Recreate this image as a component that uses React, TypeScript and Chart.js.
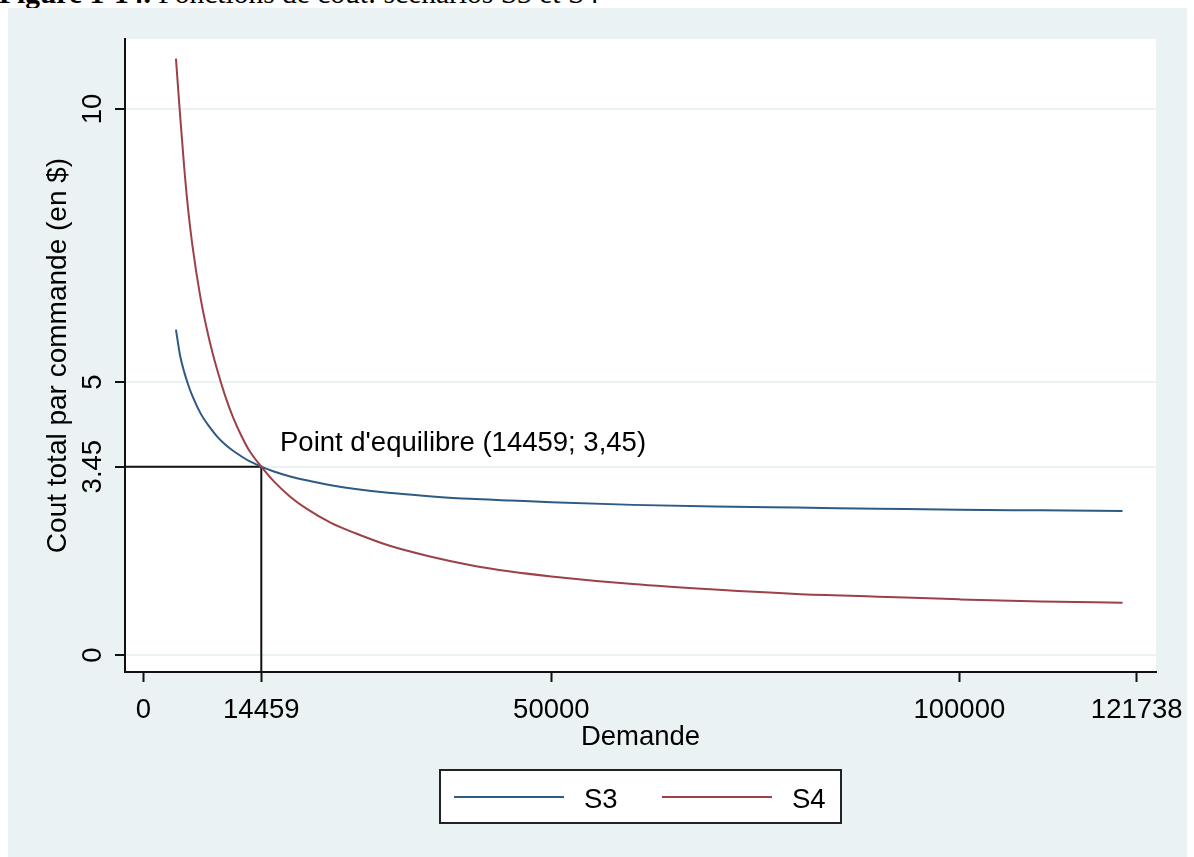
import React, { useEffect, useRef } from 'react';
import { Chart, registerables } from 'chart.js';

Chart.register(...registerables);

// ---------- data ----------
const demand = [
  4000, 4500, 5000, 5500, 6000, 7000, 8000, 9000, 10000, 11000, 12000, 13000, 14459,
  16000, 18000, 20000, 23000, 26000, 30000, 35000, 40000, 45000, 50000, 60000, 70000,
  80000, 90000, 100000, 110000, 120000,
];
const s3Cost = [
  5.96, 5.49, 5.19, 4.95, 4.75, 4.43, 4.2, 4.01, 3.86, 3.74, 3.64, 3.55, 3.45,
  3.36, 3.27, 3.2, 3.11, 3.04, 2.97, 2.91, 2.86, 2.83, 2.8, 2.75, 2.72,
  2.7, 2.68, 2.66, 2.65, 2.64,
];
const s4Cost = [
  10.92, 9.9, 8.95, 8.15, 7.52, 6.55, 5.83, 5.25, 4.76, 4.35, 4.02, 3.74, 3.45,
  3.18, 2.9, 2.68, 2.42, 2.23, 2.01, 1.81, 1.65, 1.53, 1.44, 1.3, 1.2,
  1.12, 1.07, 1.02, 0.98, 0.96,
];
const seriesNames = ['S3', 'S4'];
const xTickValues = [0, 14459, 50000, 100000, 121738];
const xTickLabels = ['0', '14459', '50000', '100000', '121738'];
const yTickValues = [0, 3.45, 5, 10];
const yTickLabels = ['0', '3.45', '5', '10'];
const equilibriumX = 14459;
const equilibriumY = 3.45;
const equilibriumText = "Point d'equilibre (14459; 3,45)";
const labelAnchorX = 16750;
const labelAnchorY = 3.74;
const xRange = [-2243, 124100];
const yRange = [-0.31, 11.28];
const xTitle = 'Demande';
const yTitle = 'Cout total par commande (en $)';
const captionBold = 'Figure 1-14.';
const captionRest = ' Fonctions de coût: scénarios S3 et S4';

// ---------- styles ----------
const FONT = '"Liberation Sans", Arial, Helvetica, sans-serif';
const BG = '#EAF2F3';
const S3_COLOR = '#2e5a86';
const S4_COLOR = '#9c4148';
const CANVAS_W = 1179;
const CANVAS_H = 849;

const decorPlugin = {
  id: 'decor',
  beforeDraw(chart: any) {
    const { ctx, chartArea: ca, width, height } = chart;
    ctx.save();
    ctx.fillStyle = BG;
    ctx.fillRect(0, 0, width, height);
    ctx.fillStyle = '#ffffff';
    ctx.fillRect(ca.left, ca.top, ca.right - ca.left, ca.bottom - ca.top);
    ctx.restore();
  },
  afterDraw(chart: any) {
    const { ctx, chartArea: ca, scales } = chart;
    const xs = scales.x;
    const ys = scales.y;
    ctx.save();
    ctx.fillStyle = '#000';
    ctx.textBaseline = 'alphabetic';

    // x tick labels
    ctx.font = `27.5px ${FONT}`;
    ctx.textAlign = 'center';
    xTickValues.forEach((v, i) => {
      ctx.fillText(xTickLabels[i], xs.getPixelForValue(v), ca.bottom + 46);
    });
    // x title
    ctx.fillText(xTitle, (ca.left + ca.right) / 2, ca.bottom + 73);

    // y tick labels (rotated)
    yTickValues.forEach((v, i) => {
      ctx.save();
      ctx.translate(ca.left - 24, ys.getPixelForValue(v));
      ctx.rotate(-Math.PI / 2);
      ctx.textAlign = 'center';
      ctx.fillText(yTickLabels[i], 0, 0);
      ctx.restore();
    });
    // y title
    ctx.save();
    ctx.font = `28px ${FONT}`;
    ctx.translate(ca.left - 59.5, (ca.top + ca.bottom) / 2);
    ctx.rotate(-Math.PI / 2);
    ctx.textAlign = 'center';
    ctx.fillText(yTitle, 0, 0);
    ctx.restore();

    // annotation
    ctx.font = `27.5px ${FONT}`;
    ctx.textAlign = 'left';
    ctx.fillText(equilibriumText, xs.getPixelForValue(labelAnchorX), ys.getPixelForValue(labelAnchorY));

    // legend
    const boxW = 401;
    const boxH = 53;
    const cx = (ca.left + ca.right) / 2;
    const bx = cx - boxW / 2;
    const by = ca.bottom + 98;
    ctx.fillStyle = '#ffffff';
    ctx.fillRect(bx, by, boxW, boxH);
    ctx.strokeStyle = '#222';
    ctx.lineWidth = 2;
    ctx.strokeRect(bx, by, boxW, boxH);
    const items = chart.data.datasets.slice(0, 2);
    const lineStarts = [14, 222];
    items.forEach((ds: any, i: number) => {
      const lx = bx + lineStarts[i];
      ctx.strokeStyle = ds.borderColor;
      ctx.lineWidth = 2;
      ctx.beginPath();
      ctx.moveTo(lx, by + 27);
      ctx.lineTo(lx + 110, by + 27);
      ctx.stroke();
      ctx.fillStyle = '#000';
      ctx.font = `27.5px ${FONT}`;
      ctx.textAlign = 'left';
      ctx.fillText(ds.label, lx + 130, by + 38);
    });
    ctx.restore();
  },
};

export default function App() {
  const canvasRef = useRef<HTMLCanvasElement | null>(null);

  useEffect(() => {
    const canvas = canvasRef.current;
    if (!canvas) return;
    const chart = new Chart(canvas, {
      type: 'line',
      data: {
        datasets: [
          {
            label: seriesNames[0],
            data: demand.map((x, i) => ({ x, y: s3Cost[i] })),
            borderColor: S3_COLOR,
            borderWidth: 2,
            pointRadius: 0,
            cubicInterpolationMode: 'monotone',
            order: 1,
          },
          {
            label: seriesNames[1],
            data: demand.map((x, i) => ({ x, y: s4Cost[i] })),
            borderColor: S4_COLOR,
            borderWidth: 2,
            pointRadius: 0,
            cubicInterpolationMode: 'monotone',
            order: 0,
          },
          {
            label: 'equilibre',
            data: [
              { x: xRange[0], y: equilibriumY },
              { x: equilibriumX, y: equilibriumY },
              { x: equilibriumX, y: yRange[0] },
            ],
            borderColor: '#111',
            borderWidth: 2,
            pointRadius: 0,
            tension: 0,
            order: 2,
          },
        ],
      },
      options: {
        responsive: false,
        animation: false,
        events: [],
        layout: { padding: { left: 0, top: 31, right: 31, bottom: 0 } },
        plugins: {
          legend: { display: false },
          tooltip: { enabled: false },
          title: { display: false },
        },
        scales: {
          x: {
            type: 'linear',
            min: xRange[0],
            max: xRange[1],
            afterBuildTicks: (s: any) => {
              s.ticks = xTickValues.map((v) => ({ value: v }));
            },
            afterFit: (s: any) => {
              s.height = 185;
            },
            ticks: { display: false },
            grid: {
              drawOnChartArea: false,
              drawTicks: true,
              tickLength: 10,
              tickColor: '#111',
              tickWidth: 2,
            },
            border: { display: true, color: '#111', width: 2 },
          },
          y: {
            type: 'linear',
            min: yRange[0],
            max: yRange[1],
            afterBuildTicks: (s: any) => {
              s.ticks = yTickValues.map((v) => ({ value: v }));
            },
            afterFit: (s: any) => {
              s.width = 117;
            },
            ticks: { display: false },
            grid: {
              color: BG,
              lineWidth: 2,
              drawTicks: true,
              tickLength: 10,
              tickColor: '#111',
              tickWidth: 2,
            },
            border: { display: true, color: '#111', width: 2 },
          },
        },
      } as any,
      plugins: [decorPlugin],
    });
    return () => chart.destroy();
  }, []);

  return (
    <>
      <div
        style={{
          position: 'absolute',
          left: -1,
          top: -18,
          fontFamily: '"Liberation Serif", "Times New Roman", serif',
          fontSize: 29.5,
          lineHeight: '22px',
          whiteSpace: 'nowrap',
          color: '#000',
        }}
      >
        <b>{captionBold}</b>
        {captionRest}
      </div>
      <div
        style={{
          position: 'absolute',
          left: 8,
          top: 8,
          width: CANVAS_W,
          height: CANVAS_H,
          background: BG,
        }}
      >
        <canvas
          ref={canvasRef}
          width={CANVAS_W}
          height={CANVAS_H}
          style={{ display: 'block', width: CANVAS_W, height: CANVAS_H }}
        />
      </div>
    </>
  );
}
